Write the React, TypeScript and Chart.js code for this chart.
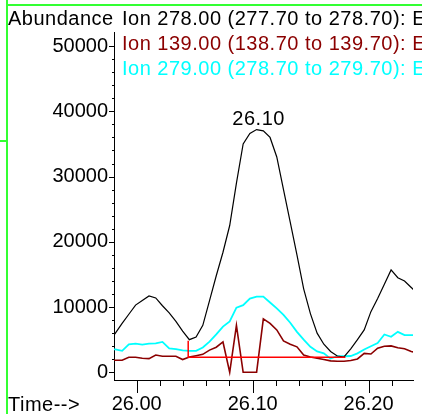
import React, { useEffect, useRef } from "react";
import { Chart, registerables } from "chart.js";

Chart.register(...registerables);

// Retention times (min) of the scans
const times = [
  25.9758, 25.9816, 25.9874, 25.9932, 25.999, 26.0048, 26.0106, 26.0164, 26.0222, 26.028,
  26.0338, 26.0396, 26.0454, 26.0512, 26.057, 26.0628, 26.0686, 26.0744, 26.0802, 26.086,
  26.0918, 26.0976, 26.1034, 26.1092, 26.115, 26.1208, 26.1266, 26.1324, 26.1382, 26.144,
  26.1498, 26.1556, 26.1614, 26.1672, 26.173, 26.1788, 26.1846, 26.1904, 26.1962, 26.202,
  26.2078, 26.2136, 26.2194, 26.2252, 26.231, 26.2368, 26.2426,
];

// Ion 278.00 (black)
const ion278 = [
  4600, 6000, 7500, 8900, 10300, 11000, 11700, 11400, 10200, 9100,
  7800, 6300, 5000, 5400, 7200, 11000, 14800, 18400, 22500, 29000,
  35000, 36600, 37200, 37000, 36000, 33000, 28000, 23000, 18000, 12800,
  9000, 6000, 4300, 3200, 2500, 2350, 3600, 5000, 6500, 9300,
  11300, 13500, 15700, 14500, 14000, 13000, 12000,
];

// Ion 139.00 (dark red)
const ion139 = [
  1850, 1850, 1850, 2300, 2300, 2150, 2100, 2650, 2450, 2450,
  2450, 1950, 2350, 2550, 2750, 3400, 3850, 4650, 0, 7200,
  0, 0, 0, 8200, 7500, 6500, 4800, 4300, 3900, 2650,
  2350, 2150, 1950, 1750, 1700, 1700, 1800, 2050, 2900, 2800,
  3700, 4000, 4050, 3750, 3600, 3200, 2900,
];

// Ion 279.00 (cyan)
const ion279 = [
  3600, 3500, 3300, 4300, 4400, 4250, 4400, 4420, 4650, 3650,
  3550, 3350, 3280, 3280, 3800, 4700, 5800, 7000, 7800, 9900,
  10300, 11300, 11600, 11600, 10700, 9800, 8800, 7600, 6200, 5000,
  3900, 3200, 2900, 2100, 2460, 2460, 2500, 2900, 3500, 4000,
  4500, 5800, 5450, 6200, 5700, 5700, 5700,
];

// Integration baseline (red)
const baselineTimes = [26.0444, 26.0444, 26.18];
const baselineValues = [4850, 2300, 2300];

const yTickValues = [0, 10000, 20000, 30000, 40000, 50000];
const xTickValues = [26.0, 26.1, 26.2];
const legendLabels = [
  "Ion 278.00 (277.70 to 278.70): E",
  "Ion 139.00 (138.70 to 139.70): E",
  "Ion 279.00 (278.70 to 279.70): E",
];
const legendColors = ["#000000", "#8b0000", "#00ffff"];

const FONT = '"Liberation Sans", Arial, sans-serif';

const toXY = (vals: number[]) => vals.map((v, i) => ({ x: times[i], y: v }));

const decoPlugin = {
  id: "deco",
  afterDraw(chart: any) {
    const ctx = chart.ctx as any;
    const xs = chart.scales.x;
    const ys = chart.scales.y;
    const ca = chart.chartArea;
    ctx.save();
    // green frame lines
    ctx.strokeStyle = "#33ff33";
    ctx.lineWidth = 2;
    ctx.beginPath();
    ctx.moveTo(7, 0);
    ctx.lineTo(7, 414);
    ctx.moveTo(7, 5);
    ctx.lineTo(422, 5);
    ctx.moveTo(0, 141);
    ctx.lineTo(7, 141);
    ctx.stroke();

    // tick marks
    ctx.strokeStyle = "#000";
    ctx.lineWidth = 1;
    ctx.beginPath();
    for (let v = 0; v <= 50000; v += 2000) {
      const y = Math.round(ys.getPixelForValue(v)) + 0.5;
      const len = v % 10000 === 0 ? 5 : 2;
      ctx.moveTo(ca.left - len, y);
      ctx.lineTo(ca.left, y);
    }
    for (let k = 0; k <= 11; k++) {
      const t = 26.0 + k * 0.02;
      const x = Math.round(xs.getPixelForValue(t)) + 0.5;
      if (x > ca.right) continue;
      const major = k % 5 === 0;
      ctx.moveTo(x, ca.bottom);
      ctx.lineTo(x, ca.bottom + (major ? 13 : 6));
    }
    ctx.stroke();

    // texts
    ctx.font = "20px " + FONT;
    ctx.letterSpacing = "0.5px";
    ctx.textBaseline = "alphabetic";
    ctx.textAlign = "left";
    ctx.fillStyle = "#000";
    ctx.fillText("Abundance", 8, 25);
    ctx.fillText("Time-->", 8, 411);
    legendLabels.forEach((lab, i) => {
      ctx.fillStyle = legendColors[i];
      ctx.fillText(lab, 122, 25 + i * 25);
    });

    // peak label
    let mi = 0;
    ion278.forEach((v, i) => {
      if (v > ion278[mi]) mi = i;
    });
    const px = xs.getPixelForValue(times[mi]);
    const py = ys.getPixelForValue(ion278[mi]);
    ctx.fillStyle = "#000";
    ctx.textAlign = "center";
    ctx.fillText(times[mi].toFixed(2), px + 2, py - 5);
    ctx.restore();
  },
};

export default function App() {
  const ref = useRef<HTMLCanvasElement | null>(null);
  useEffect(() => {
    if (!ref.current) return;
    const chart = new Chart(ref.current, {
      type: "line",
      data: {
        datasets: [
          {
            data: baselineTimes.map((t, i) => ({ x: t, y: baselineValues[i] })),
            borderColor: "#ff0000",
            borderWidth: 1.5,
            pointRadius: 0,
            order: 0,
          },
          {
            data: toXY(ion278),
            borderColor: "#000000",
            borderWidth: 1.2,
            pointRadius: 0,
            order: 1,
          },
          {
            data: toXY(ion279),
            borderColor: "#00ffff",
            borderWidth: 1.8,
            pointRadius: 0,
            order: 2,
          },
          {
            data: toXY(ion139),
            borderColor: "#8b0000",
            borderWidth: 1.6,
            pointRadius: 0,
            order: 3,
          },
        ],
      },
      options: {
        animation: false,
        responsive: false,
        maintainAspectRatio: false,
        layout: { padding: { top: 32, right: 9, left: 0, bottom: 0 } },
        plugins: { legend: { display: false }, tooltip: { enabled: false } },
        scales: {
          x: {
            type: "linear",
            min: 25.9804,
            max: 26.2383,
            grid: { display: false, drawTicks: false },
            border: { display: true, color: "#000", width: 1 },
            afterBuildTicks: (s: any) => {
              s.ticks = xTickValues.map((v) => ({ value: v }));
            },
            afterFit: (s: any) => {
              s.height = 34;
            },
            ticks: {
              callback: (v: any) => Number(v).toFixed(2),
              font: { size: 20, family: FONT },
              color: "#000",
              padding: 12,
              maxRotation: 0,
              autoSkip: false,
            },
          },
          y: {
            type: "linear",
            min: -1180,
            max: 52160,
            grid: { display: false, drawTicks: false },
            border: { display: true, color: "#000", width: 1 },
            afterBuildTicks: (s: any) => {
              s.ticks = yTickValues.map((v) => ({ value: v }));
            },
            afterFit: (s: any) => {
              s.width = 114;
            },
            ticks: {
              callback: (v: any) => String(v),
              font: { size: 20, family: FONT },
              color: "#000",
              padding: 6,
              autoSkip: false,
            },
          },
        },
      },
      plugins: [decoPlugin],
    });
    return () => chart.destroy();
  }, []);
  return (
    <div style={{ position: "fixed", left: 0, top: 0, width: 422, height: 414, background: "#fff" }}>
      <canvas ref={ref} width={422} height={414} style={{ display: "block" }} />
    </div>
  );
}
